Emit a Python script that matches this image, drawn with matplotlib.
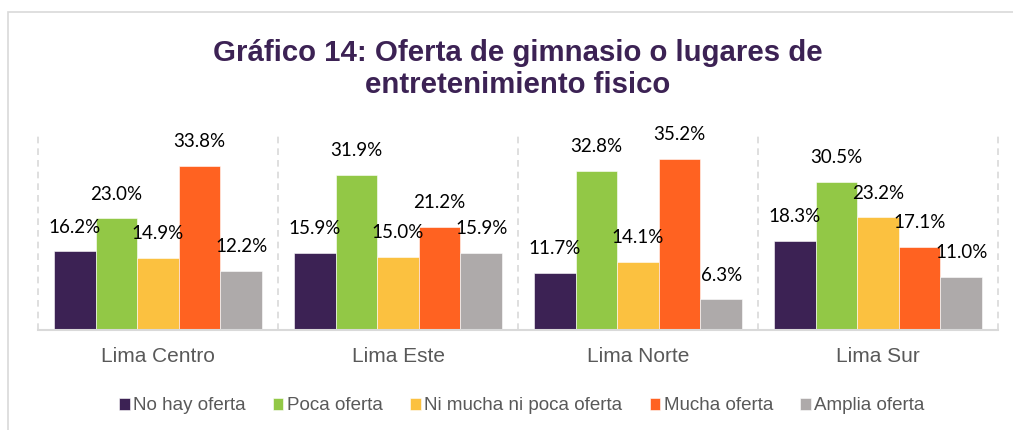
import matplotlib
matplotlib.use("Agg")
import matplotlib.pyplot as plt
from matplotlib.patches import Rectangle
import numpy as np

regions = ["Lima Centro", "Lima Este", "Lima Norte", "Lima Sur"]
series = ["No hay oferta", "Poca oferta", "Ni mucha ni poca oferta",
          "Mucha oferta", "Amplia oferta"]
no_hay = [16.2, 15.9, 11.7, 18.3]
poca = [23.0, 31.9, 32.8, 30.5]
ni_mucha = [14.9, 15.0, 14.1, 23.2]
mucha = [33.8, 21.2, 35.2, 17.1]
amplia = [12.2, 15.9, 6.3, 11.0]
values = [no_hay, poca, ni_mucha, mucha, amplia]
colors = ["#3c2254", "#92c846", "#fbc140", "#ff6221", "#aeaaaa"]
title = "Gráfico 14: Oferta de gimnasio o lugares de\nentretenimiento fisico"

W, H = 1013, 430
fig = plt.figure(figsize=(W / 100, H / 100), dpi=100)

# outer frame (runs off right and bottom edges)
fig.patches.append(Rectangle((8 / W, -0.05), 1.1, 1 - 12 / H + 0.05,
                             transform=fig.transFigure, fill=False,
                             edgecolor="#d9d9d9", linewidth=1.2))

ax = fig.add_axes([38 / W, 1 - 330 / H, (998 - 38) / W, (330 - 136) / H])
ax.set_xlim(0, 4)
ax.set_ylim(0, 40)

bw = 0.1733
x = np.arange(len(regions)) + 0.5
for j, (vals, c, name) in enumerate(zip(values, colors, series)):
    pos = x + (j - 2) * bw
    bars = ax.bar(pos, vals, width=bw, color=c, label=name,
                  edgecolor="white", linewidth=0.4, zorder=2)
    for xp, v in zip(pos, vals):
        ax.annotate("%.1f%%" % v, (xp, v), xytext=(0, 17.5),
                    textcoords="offset points", ha="center", va="center",
                    fontsize=13.5, family="Lato", color="#000000", zorder=3)

# group separators
for b in range(len(regions) + 1):
    ax.plot([b, b], [0, 40], color="#d9d9d9", linestyle=(0, (4, 3)),
            linewidth=1.2, zorder=1, clip_on=False)

for s in ["top", "right", "left"]:
    ax.spines[s].set_visible(False)
ax.spines["bottom"].set_color("#d9d9d9")
ax.spines["bottom"].set_linewidth(1.5)
ax.set_yticks([])
ax.set_xticks(x)
ax.set_xticklabels(regions, fontsize=15, family="Liberation Sans",
                   color="#595959")
ax.tick_params(axis="x", length=0, pad=12)

fig.text(518 / W, 1 - 69 / H, title, ha="center", va="center",
         fontsize=21.2, fontweight="bold", family="Liberation Sans",
         color="#3c2254", linespacing=1.2)

fig.legend(loc="center", bbox_to_anchor=(522 / W, 1 - 406 / H), ncol=5,
           frameon=False, prop={"family": "Liberation Sans", "size": 13.5},
           labelcolor="#595959", handlelength=0.55, handleheight=0.55,
           handletextpad=0.2, columnspacing=1.45, borderaxespad=0)

fig.savefig("out.png", dpi=100, facecolor="white")
